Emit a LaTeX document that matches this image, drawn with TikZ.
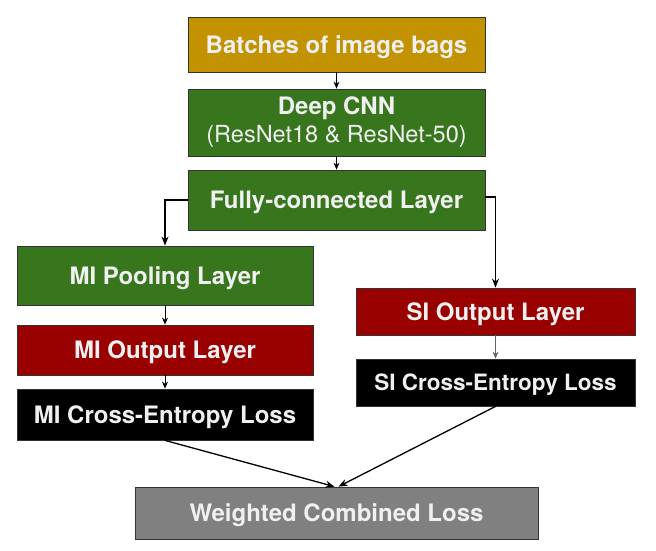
\documentclass[tikz,border=0pt]{standalone}
\usepackage{fontspec}
\setmainfont{TeX Gyre Heros}
\usetikzlibrary{arrows.meta}
\definecolor{gold}{HTML}{C39200}
\definecolor{cnngreen}{HTML}{38761D}
\definecolor{outred}{HTML}{990000}
\definecolor{lossgrey}{HTML}{808080}
\definecolor{txt}{HTML}{F0F0F0}
\tikzset{
  blk/.style={draw=black!80, line width=0.8pt, rectangle, text=txt, font=\bfseries\fontsize{24}{28}\selectfont, align=center, inner sep=0pt},
  one/.style={text height=17pt, text depth=0pt},
  arr/.style={-{Stealth[length=7pt,width=6pt]}, line width=0.9pt},
  thick arr/.style={-{Stealth[length=9pt,width=7pt]}, line width=1.5pt},
}
\begin{document}
\begin{tikzpicture}[x=1pt,y=-1pt]
\useasboundingbox (0,0) rectangle (656,550);
\node[blk, one, fill=gold, minimum width=297pt, minimum height=55pt] (bat) at (336.5,44.5) {Batches of image bags};
\node[blk, fill=cnngreen, minimum width=297pt, minimum height=67pt, font=\bfseries\fontsize{24}{28}\selectfont] (cnn) at (336.5,122.5) {Deep CNN\\{\mdseries\fontsize{23.5}{28}\selectfont (ResNet18 \& ResNet-50)}};
\node[blk, one, fill=cnngreen, minimum width=297pt, minimum height=60pt] (fc) at (336.5,200) {Fully-connected Layer};
\node[blk, one, fill=cnngreen, minimum width=296pt, minimum height=59pt] (mip) at (165,275.5) {MI Pooling Layer};
\node[blk, one, fill=outred, minimum width=296pt, minimum height=50pt] (mio) at (165,350) {MI Output Layer};
\node[blk, one, fill=black, minimum width=296pt, minimum height=51pt] (mic) at (165,414.5) {MI Cross-Entropy Loss};
\node[blk, one, fill=outred, minimum width=279pt, minimum height=47pt] (sio) at (495.5,311.5) {SI Output Layer};
\node[blk, fill=black, minimum width=279pt, minimum height=47pt, font=\bfseries\fontsize{22.5}{26}\selectfont, text height=16pt, text depth=0pt] (sic) at (495.5,382.5) {SI Cross-Entropy Loss};
\node[blk, one, fill=lossgrey, minimum width=403pt, minimum height=52pt] (loss) at (336.5,513) {Weighted Combined Loss};

\draw[arr] (bat) -- (cnn);
\draw[arr] (cnn) -- (fc);
\draw[thick arr] (fc.west) -| (mip.north);
\draw[thick arr] ([yshift=3pt]fc.east) -| (sio.north);
\draw[arr] (mip) -- (mio);
\draw[arr] (mio) -- (mic);
\draw[arr, draw=black!60] (sio) -- (sic);
\draw[thick arr, line width=1.3pt] (mic.south) -- ([xshift=-2pt]loss.north);
\draw[thick arr, line width=1.3pt] (sic.south) -- ([xshift=2pt]loss.north);
\end{tikzpicture}
\end{document}
